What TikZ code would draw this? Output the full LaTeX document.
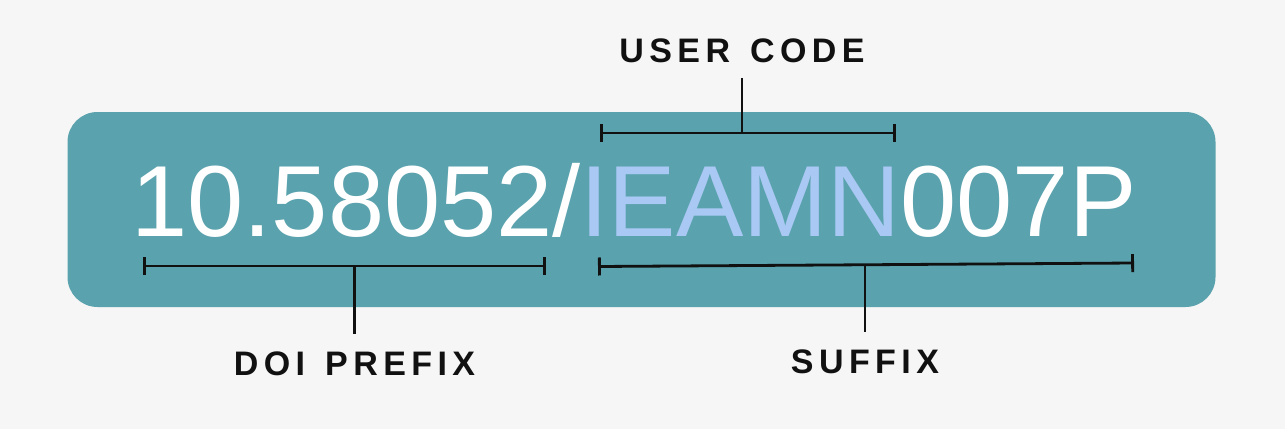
\documentclass[tikz,border=0pt]{standalone}
\usepackage{fontspec}
\setmainfont{Liberation Sans}
\usepackage{tikz}
\usetikzlibrary{arrows.meta}
\usetikzlibrary{positioning}
\definecolor{bg}{HTML}{F6F6F6}
\definecolor{teal}{HTML}{5AA2AD}
\definecolor{idblue}{HTML}{A9C8F4}
\definecolor{ink}{HTML}{111111}
\newcommand{\tagfont}{\fontsize{34}{40}\selectfont\bfseries\addfontfeature{LetterSpace=16}}
\newcommand{\gap}{\hspace{20pt}}

\begin{document}
\begin{tikzpicture}[x=1pt,y=-1pt,
  bracket/.style={draw=ink,line width=2.8pt,{Bar[width=18pt]}-{Bar[width=18pt]}},
  stem/.style={draw=ink,line width=2.8pt},
  tag node/.style={font=\tagfont,text=ink,text height=25pt,text depth=0pt,inner xsep=0pt,inner ysep=16pt,anchor=base},
  box/.style={fill=teal,rounded corners=30pt,minimum width=1148pt,minimum height=195pt,inner sep=0pt}]
  \fill[bg] (0,0) rectangle (1285,429);
  \node[box] (box) at (641.5,209.5) {};
  \node[font=\fontsize{101}{110}\selectfont,text=white,inner sep=0pt,anchor=base] (doi) at (634,236)
    {10.58052/\textcolor{idblue}{IEAMN}007P};
  % brackets
  \coordinate (pre-l) at (143,266);
  \coordinate (pre-r) at (546,266);
  \coordinate (pre-m) at (354.5,266);
  \coordinate (usr-l) at (600,133);
  \coordinate (usr-r) at (896,133);
  \coordinate (usr-m) at (742,133);
  \coordinate (suf-l) at (598,266.5);
  \coordinate (suf-r) at (1134,263);
  \coordinate (suf-m) at (865,264.8);
  \path[bracket] (pre-l) -- (pre-r);
  \path[bracket] (usr-l) -- (usr-r);
  \path[bracket] (suf-l) -- (suf-r);
  % labels
  \node[tag node] (user) at (742,62) {USER\gap{}CODE};
  \node[tag node] (prefix) at (354.5,375) {DOI\gap{}PREFIX};
  \node[tag node] (suffix) at (865,373) {SUFFIX};
  \path[stem] (user) -- (usr-m);
  \path[stem] (prefix) -- (pre-m);
  \path[stem] (suffix) -- (suf-m);
\end{tikzpicture}
\end{document}
